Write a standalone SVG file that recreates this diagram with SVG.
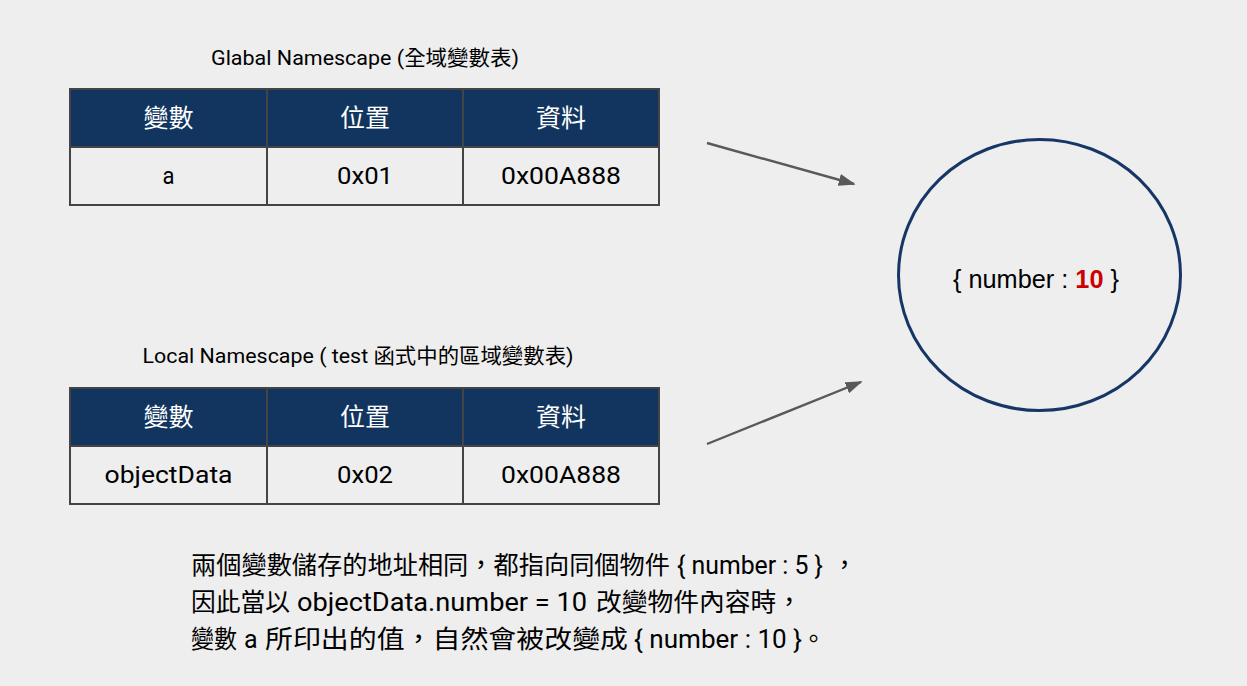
<svg xmlns="http://www.w3.org/2000/svg" width="1247" height="686" viewBox="0 0 1247 686">
<defs>
<style>
.title{font-family:Roboto,"Noto Sans CJK TC",sans-serif;font-size:21px;fill:#000}
.hd{fill:#12355f;stroke:#444;stroke-width:2}
.cell{fill:#eeeeee;stroke:#444;stroke-width:2}
.ht{font-family:Roboto,"Noto Sans CJK TC",sans-serif;font-size:25px;fill:#fff;text-anchor:middle}
.ct{font-family:Roboto,"Noto Sans CJK TC",sans-serif;font-size:24px;fill:#000;text-anchor:middle}
.arr{stroke:#595959;stroke-width:2.4;fill:none;marker-end:url(#ah)}
.note{font-family:Roboto,"Noto Sans CJK TC",sans-serif;font-size:25px;fill:#000}
</style>
<marker id="ah" viewBox="0 0 10 10" refX="9" refY="5" markerWidth="17" markerHeight="12" markerUnits="userSpaceOnUse" orient="auto" preserveAspectRatio="none">
<path d="M0,0 L10,5 L0,10 z" fill="#595959"/>
</marker>
</defs>
<rect width="1247" height="686" fill="#eeeeee"/>
<g id="global-table">
<text class="title" x="211" y="65" textLength="308" lengthAdjust="spacingAndGlyphs">Glabal Namescape (全域變數表)</text>
<rect class="hd" x="70" y="89" width="197" height="58"/>
<rect class="hd" x="267" y="89" width="196" height="58"/>
<rect class="hd" x="463" y="89" width="196" height="58"/>
<rect class="cell" x="70" y="147" width="197" height="58"/>
<rect class="cell" x="267" y="147" width="196" height="58"/>
<rect class="cell" x="463" y="147" width="196" height="58"/>
<text class="ht" x="168.5" y="127">變數</text>
<text class="ht" x="365" y="127">位置</text>
<text class="ht" x="561" y="127">資料</text>
<text class="ct" x="168.5" y="184" textLength="12" lengthAdjust="spacingAndGlyphs">a</text>
<text class="ct" x="365" y="184" textLength="56" lengthAdjust="spacingAndGlyphs">0x01</text>
<text class="ct" x="561" y="184" textLength="120" lengthAdjust="spacingAndGlyphs">0x00A888</text>
</g>
<g id="local-table">
<text class="title" x="142.5" y="363" textLength="431" lengthAdjust="spacingAndGlyphs">Local Namescape ( test 函式中的區域變數表)</text>
<rect class="hd" x="70" y="388" width="197" height="58"/>
<rect class="hd" x="267" y="388" width="196" height="58"/>
<rect class="hd" x="463" y="388" width="196" height="58"/>
<rect class="cell" x="70" y="446" width="197" height="58"/>
<rect class="cell" x="267" y="446" width="196" height="58"/>
<rect class="cell" x="463" y="446" width="196" height="58"/>
<text class="ht" x="168.5" y="426">變數</text>
<text class="ht" x="365" y="426">位置</text>
<text class="ht" x="561" y="426">資料</text>
<text class="ct" x="168.5" y="483" textLength="128" lengthAdjust="spacingAndGlyphs">objectData</text>
<text class="ct" x="365" y="483" textLength="56" lengthAdjust="spacingAndGlyphs">0x02</text>
<text class="ct" x="561" y="483" textLength="120" lengthAdjust="spacingAndGlyphs">0x00A888</text>
</g>
<g id="object">
<ellipse cx="1039.5" cy="275" rx="141" ry="135.5" fill="none" stroke="#163766" stroke-width="3"/>
<text x="953" y="288" textLength="166" lengthAdjust="spacingAndGlyphs" style="font-family:'Liberation Sans',Arial,sans-serif;font-size:25px;fill:#000">{ number : <tspan style="font-weight:bold;fill:#cc0000">10</tspan> }</text>
</g>
<g id="connectors">
<line class="arr" x1="707" y1="143" x2="854" y2="184"/>
<line class="arr" x1="707" y1="444" x2="861" y2="382"/>
</g>
<g id="note">
<text class="note" y="574"><tspan x="191" textLength="479" lengthAdjust="spacingAndGlyphs">兩個變數儲存的地址相同，都指向同個物件</tspan><tspan x="677" textLength="146" lengthAdjust="spacingAndGlyphs">{ number : 5 }</tspan><tspan x="832">，</tspan></text>
<text class="note" y="611"><tspan x="191" textLength="99" lengthAdjust="spacingAndGlyphs">因此當以</tspan><tspan x="297" textLength="290" lengthAdjust="spacingAndGlyphs">objectData.number = 10</tspan><tspan x="596" textLength="206" lengthAdjust="spacingAndGlyphs">改變物件內容時，</tspan></text>
<text class="note" y="648"><tspan x="191" textLength="46" lengthAdjust="spacingAndGlyphs">變數</tspan><tspan x="244">a</tspan><tspan x="265" textLength="363" lengthAdjust="spacingAndGlyphs">所印出的值，自然會被改變成</tspan><tspan x="634" textLength="168" lengthAdjust="spacingAndGlyphs">{ number : 10 }</tspan><tspan x="801">。</tspan></text>
</g>
</svg>
